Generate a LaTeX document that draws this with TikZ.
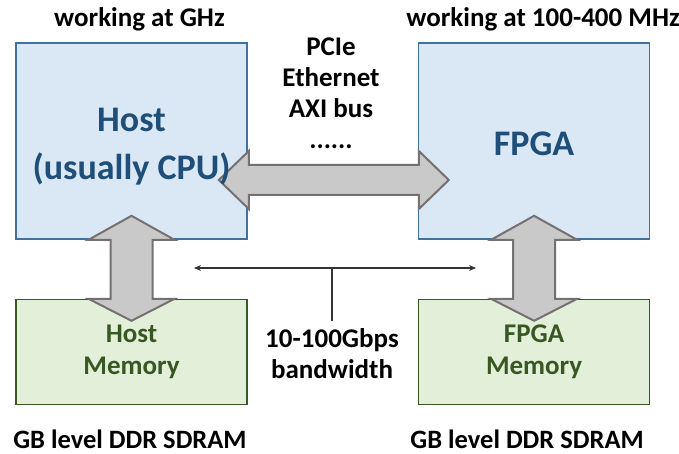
\documentclass[tikz,border=0pt]{standalone}
\usepackage{fontspec}
\setmainfont{Carlito}
\usetikzlibrary{arrows.meta,positioning,calc}

\definecolor{hostFill}{HTML}{DAE8F6}
\definecolor{hostEdge}{HTML}{41719C}
\definecolor{hostText}{HTML}{1F4E79}
\definecolor{memFill}{HTML}{E2F0D9}
\definecolor{memEdge}{HTML}{385723}
\definecolor{arrowFill}{HTML}{C9C9C9}
\definecolor{arrowEdge}{HTML}{767171}

\begin{document}
\begin{tikzpicture}[
    x=1pt, y=-1pt,
    node distance=59pt and 170pt,
    cpubox/.style={draw=hostEdge, fill=hostFill, line width=1.6pt,
                   minimum width=231pt, minimum height=196pt},
    membox/.style={draw=memEdge, fill=memFill, line width=1.6pt,
                   minimum width=231pt, minimum height=105pt},
    cputext/.style={font=\fontsize{36}{48}\selectfont\bfseries, text=hostText, align=center},
    memtext/.style={font=\fontsize{27}{32}\selectfont\bfseries, text=memEdge, align=center},
    note/.style={font=\fontsize{27}{31}\selectfont\bfseries, align=center, inner sep=0pt},
    blockarr/.style={draw=arrowEdge, fill=arrowFill, line width=2pt, line join=miter},
    thinarr/.style={{Stealth[length=7pt,width=6pt]}-{Stealth[length=7pt,width=6pt]},
                    line width=1.1pt, black!80}
  ]
    \useasboundingbox (0,0) rectangle (679,454);

    % Boxes
    \node[cpubox] (host) at (131.5,141) {};
    \node[cpubox, right=of host] (fpga) {};
    \node[membox, below=of host] (hostmem) {};
    \node[membox, below=of fpga] (fpgamem) {};

    % Block arrows
    \coordinate (busl) at ($(host.east)+(-29,39)$);
    \coordinate (busr) at ($(fpga.west)+(31,39)$);
    \draw[blockarr] (busl) -- ++(30,-29) -- ++(0,14) -- ($(busr)+(-30,-15)$)
      -- ++(0,-14) -- (busr) -- ++(-30,29) -- ++(0,-14) -- ($(busl)+(30,15)$)
      -- ++(0,14) -- cycle;
    \foreach \top/\bot in {host/hostmem, fpga/fpgamem} {
      \coordinate (up) at ($(\top.south)+(0,-24)$);
      \coordinate (dn) at ($(\bot.north)+(0,22)$);
      \draw[blockarr] (up) -- ++(43,24) -- ++(-22,0) -- ($(dn)+(21,-22)$)
        -- ++(22,0) -- (dn) -- ++(-43,-22) -- ++(22,0) -- ($(up)+(-21,24)$)
        -- ++(-22,0) -- cycle;
    }

    % Box texts
    \node[cputext] at ($(host)+(0,6)$) {Host\\(usually CPU)};
    \node[cputext] at ($(fpga)+(0,3)$) {FPGA};
    \node[memtext] at (hostmem) {Host\\Memory};
    \node[memtext] at (fpgamem) {FPGA\\Memory};

    % Clock and memory labels
    \node[note, anchor=base] at ($(host.north)+(8,-16)$) {working at GHz};
    \node[note, anchor=base] at ($(fpga.north)+(9,-16)$) {working at 100-400 MHz};
    \node[note, anchor=base, text depth=0pt, font=\fontsize{26.5}{31}\selectfont\bfseries]
      at ($(hostmem.south)+(-1.5,43)$) {GB level DDR SDRAM};
    \node[note, anchor=base, text depth=0pt, font=\fontsize{26.5}{31}\selectfont\bfseries]
      at ($(fpgamem.south)+(-7,43)$) {GB level DDR SDRAM};

    % Interconnects
    \node[note, anchor=north] (links) at (331,38) {PCIe\\Ethernet\\AXI bus\\......};

    % Bandwidth
    \coordinate (bwl) at (194,268);
    \coordinate (bwr) at (476,268);
    \draw[thinarr] (bwl) -- (bwr);
    \node[note, anchor=north, inner ysep=7pt] (bw) at (332,321) {10-100Gbps\\bandwidth};
    \draw[line width=1.1pt, black!80] (bw.north) -- (bw.north |- bwl);
  \end{tikzpicture}
\end{document}
